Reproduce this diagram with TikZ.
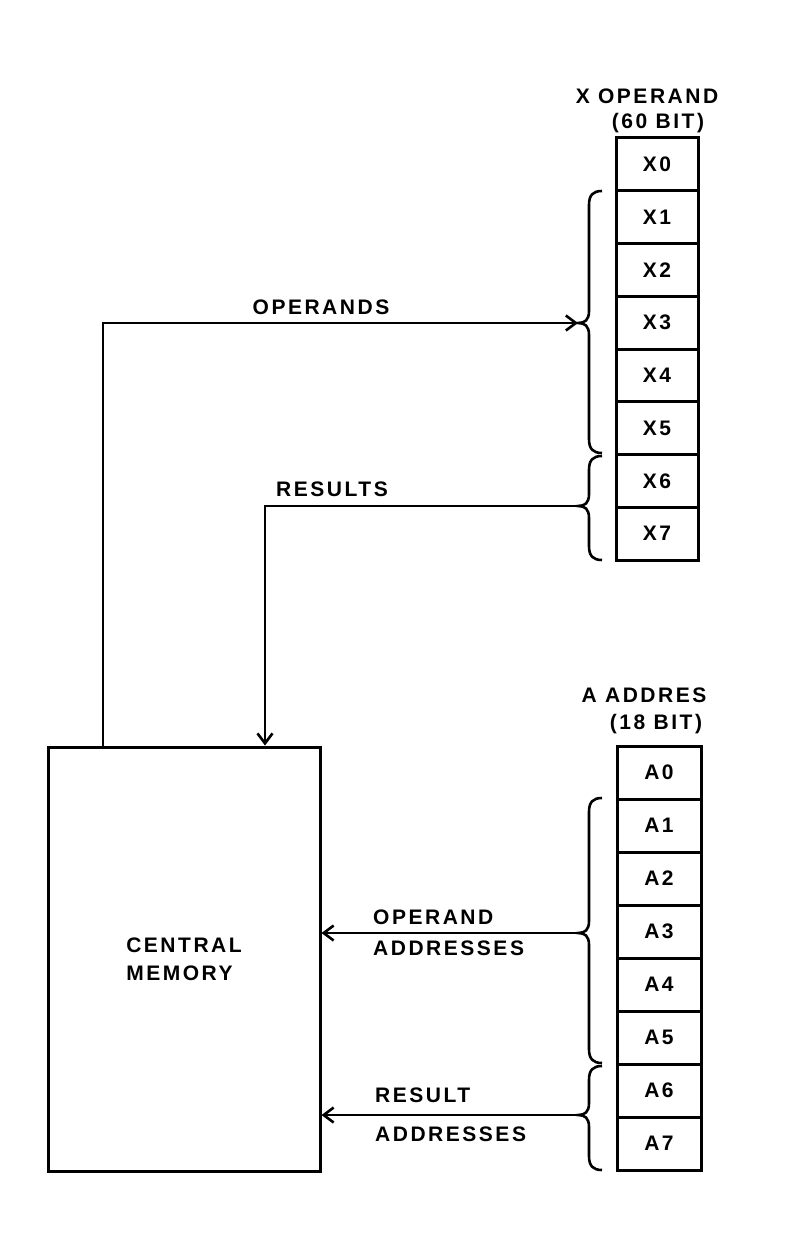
\documentclass[tikz,border=0pt]{standalone}
\usepackage{fontspec}
\setmainfont{Liberation Sans}[UprightFont={Liberation Sans Bold}, BoldFont={Liberation Sans Bold}, LetterSpace=12]
\usetikzlibrary{arrows.meta}
\newcommand\regbrace[4]{%
  \draw[brc] (602,#2) .. controls (593,#2) and (589,#2+4) .. (589,#2+14)
    -- (589,#3-12) .. controls (589,#3-3) and (585,#3) .. (578,#3)
    .. controls (585,#3) and (589,#3+3) .. (589,#3+12)
    -- (589,#4-14) .. controls (589,#4-4) and (593,#4) .. (602,#4);
  \coordinate (#1) at (578,#3);}
\begin{document}
\begin{tikzpicture}[x=1pt,y=-1pt,
  font=\fontsize{21}{28}\selectfont,
  reg/.style={draw, line width=3pt, minimum width=82pt, minimum height=52.75pt, inner sep=0pt},
  areg/.style={reg, minimum width=84pt, minimum height=53pt},
  conn/.style={line width=2.6pt, -{Straight Barb[length=10pt,width=15pt,line width=2.6pt]}},
  brc/.style={line width=2.6pt},
  lbl/.style={inner sep=0pt},
  memory/.style={draw, line width=3pt, minimum width=272pt, minimum height=424pt, align=left, inner sep=0pt}]
\useasboundingbox (0,0) rectangle (800,1233);

% registers
\foreach \i in {0,...,7}{
  \node[reg] (X\i) at (657,{164.375+52.75*\i}) {X\i};
  \node[areg] (A\i) at (659,{772.5+53*\i}) {A\i};
}

% titles
\node[lbl] (xop) at (647,96) {X OPERAND};
\node[lbl] (x60) at (658,123) {(60 BIT)};
\node[lbl] (aad) at (644,695) {A ADDRES};
\node[lbl] (a18) at (656,724) {(18 BIT)};

% central memory
\node[memory] (mem) at (184,959) {CENTRAL\\MEMORY};

% braces
\regbrace{bx1}{191}{323}{453}
\regbrace{bx2}{456}{506}{560}
\regbrace{ba1}{798}{933}{1063}
\regbrace{ba2}{1066}{1115}{1170}

% connectors
\coordinate (opcorner) at (103,323);
\coordinate (rescorner) at (265,506);
\draw[conn] (mem.north -| opcorner) -- (opcorner) -- (bx1);
\draw[conn] (bx2) -- (rescorner) -- (rescorner |- mem.north);
\draw[conn] (ba1) -- (ba1 -| mem.east);
\draw[conn] (ba2) -- (ba2 -| mem.east);

% connector labels
\node[lbl] (lops) at (321,307) {OPERANDS};
\node[lbl] (lres) at (332,489) {RESULTS};
\node[lbl, anchor=west] (lopa1) at (373,917) {OPERAND};
\node[lbl, anchor=west] (lopa2) at (373,948) {ADDRESSES};
\node[lbl, anchor=west] (lra1) at (375,1095) {RESULT};
\node[lbl, anchor=west] (lra2) at (375,1134) {ADDRESSES};
\end{tikzpicture}
\end{document}
